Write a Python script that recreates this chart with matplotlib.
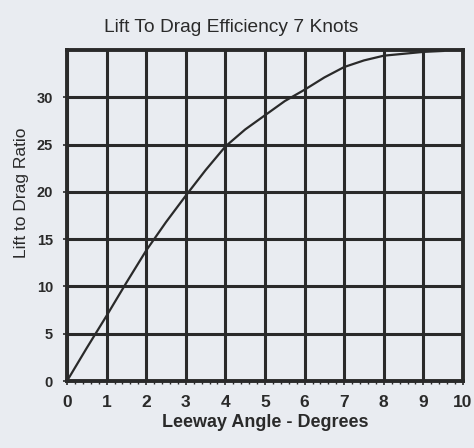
import matplotlib
matplotlib.use("Agg")
import matplotlib.pyplot as plt
from matplotlib.ticker import MultipleLocator

# Lift-to-drag ratio vs leeway angle at 7 knots
leeway_deg = [0, 0.5, 1, 1.5, 2, 2.5, 3, 3.5, 4, 4.5, 5, 5.5, 6, 6.5, 7,
              7.5, 8, 8.5, 9, 9.5]
lift_drag = [0, 3.5, 6.9, 10.4, 13.8, 16.8, 19.6, 22.3, 24.8, 26.6, 28.1,
             29.6, 30.8, 32.1, 33.2, 33.9, 34.4, 34.6, 34.8, 34.9]
x_ticks = [0, 1, 2, 3, 4, 5, 6, 7, 8, 9, 10]
y_ticks = [0, 5, 10, 15, 20, 25, 30]

bg = "#e9ecf1"
ink = "#2a2a2a"
plt.rcParams["font.family"] = ["Liberation Sans", "DejaVu Sans"]

fig = plt.figure(figsize=(4.74, 4.48), dpi=100, facecolor=bg)
ax = fig.add_axes([67 / 474, 67 / 448, 396 / 474, 331 / 448], facecolor=bg)

ax.plot(leeway_deg, lift_drag, color=ink, lw=1.6, zorder=3,
        solid_joinstyle="round")

ax.set_xlim(0, 10)
ax.set_ylim(0, 35)
ax.set_xticks(x_ticks)
ax.set_yticks(y_ticks)
ax.xaxis.set_minor_locator(MultipleLocator(0.2))
ax.grid(True, which="major", color=ink, lw=2.2)
ax.set_axisbelow(True)

for s in ax.spines.values():
    s.set_color(ink)
    s.set_linewidth(2.8)

ax.tick_params(axis="both", which="major", colors=ink, length=3, width=1.2)
ax.tick_params(axis="x", which="minor", colors=ink, length=2, width=1.0)
ax.tick_params(axis="x", labelsize=12.5, pad=7)
ax.tick_params(axis="y", labelsize=10.5, pad=7)
for lab in ax.get_xticklabels() + ax.get_yticklabels():
    lab.set_fontweight("bold")

ax.set_xlabel("Leeway Angle - Degrees", fontsize=13, fontweight="bold",
              color=ink, labelpad=3)
fig.text(22 / 474, 1 - 193 / 448, "Lift to Drag Ratio", rotation=90,
         ha="center", va="center", fontsize=12.5, color=ink)
fig.text(231 / 474, 1 - 27 / 448, "Lift To Drag Efficiency 7 Knots",
         ha="center", va="center", fontsize=13.8, color=ink)

fig.savefig("out.png", dpi=100, facecolor=bg)
